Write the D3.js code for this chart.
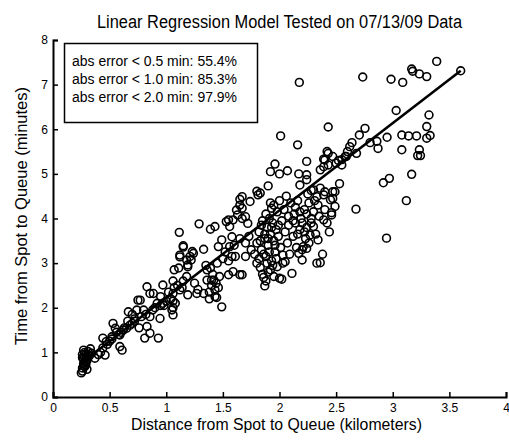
<!DOCTYPE html>
<html>
<head>
<meta charset="utf-8">
<script src="https://cdn.jsdelivr.net/npm/d3@7.9.0/dist/d3.min.js"></script>
<style>
  body { margin: 0; background: #fff; }
  svg { display: block; }
  text { font-family: "Liberation Sans Narrow", "Liberation Sans", Arial, sans-serif; fill: #000; }
</style>
</head>
<body>
<svg id="chart" width="509" height="441"></svg>
<script>
// trip data: [distance km, time min]
const trips = [
  // 0.25 - 0.35 km cluster
  [0.25,0.54],[0.26,0.58],[0.26,0.65],[0.27,0.70],[0.27,0.75],[0.28,0.80],[0.27,0.85],[0.28,0.90],
  [0.26,0.95],[0.28,1.00],[0.27,1.05],[0.29,0.72],[0.30,0.88],[0.31,0.95],[0.30,0.82],[0.29,0.78],
  [0.32,0.92],[0.33,1.08],[0.31,1.02],[0.28,0.68],[0.30,0.62],[0.34,0.98],[0.26,0.88],[0.29,0.96],
  // 0.35 - 0.8
  [0.37,0.87],[0.40,0.95],[0.42,1.00],[0.46,0.94],[0.44,1.10],[0.47,1.24],[0.44,1.32],[0.48,1.18],
  [0.50,1.25],[0.52,1.30],[0.53,1.65],[0.55,1.54],[0.56,1.45],[0.58,1.40],[0.59,1.13],[0.61,1.05],
  [0.59,1.39],[0.62,1.50],[0.65,1.54],[0.66,1.70],[0.68,1.61],[0.665,1.91],[0.70,1.85],[0.72,1.75],
  [0.74,1.95],[0.75,2.17],[0.77,2.17],[0.76,1.55],[0.78,1.80],[0.80,1.95],
  [0.52,1.35],[0.60,1.45],[0.63,1.55],[0.70,1.65],[0.72,1.70],
  // 0.8 - 1.3
  [0.81,1.32],[0.83,1.58],[0.856,1.43],[0.856,1.80],[0.93,1.32],[0.945,1.76],[0.83,2.47],[0.886,2.32],
  [0.97,2.51],[0.856,2.32],[0.90,2.00],[0.92,2.10],[0.95,2.25],[0.98,2.05],[1.00,2.15],[1.02,2.35],
  [1.06,1.84],[1.08,2.10],[1.06,2.32],[1.04,2.20],[1.11,2.89],[1.18,3.07],[1.21,3.15],[1.24,3.22],
  [1.27,2.32],[1.19,2.29],[1.18,2.70],[1.19,2.96],[1.10,2.50],[1.12,2.40],[1.15,2.60],[1.14,2.45],
  [1.115,3.69],[1.15,3.39],[1.12,3.18],[1.22,3.07],[1.23,3.26],[1.19,2.92],[1.25,2.55],[1.28,2.41],
  [1.29,3.88],
  [0.82,1.85],[0.88,1.95],[0.95,2.05],[0.97,2.10],
  [1.06,2.00],[1.06,2.15],[1.07,2.45],[1.06,2.60],[1.07,2.85],[1.05,1.95],[1.12,3.14],[1.15,3.36],
  // 1.3 - 1.75
  [1.33,3.31],[1.36,2.85],[1.42,2.62],[1.43,2.25],[1.39,3.76],[1.39,2.89],[1.40,2.62],[1.47,2.70],
  [1.55,2.74],[1.65,2.74],[1.59,2.81],[1.43,2.40],[1.445,2.23],[1.49,2.02],[1.33,2.32],[1.36,2.62],
  [1.43,3.82],[1.49,3.52],[1.58,3.59],[1.46,3.37],[1.56,3.37],[1.61,3.15],[1.70,3.15],[1.58,3.15],
  [1.35,2.95],[1.45,3.00],[1.50,3.10],[1.52,3.25],[1.55,3.05],[1.62,4.19],[1.63,4.08],[1.55,3.97],
  [1.53,3.93],[1.70,4.04],[1.72,3.89],[1.65,4.30],[1.67,4.23],[1.67,4.49],[1.65,4.43],[1.74,4.38],
  [1.56,3.82],[1.59,3.97],[1.67,4.00],[1.67,2.74],[1.60,3.40],[1.65,3.55],[1.70,3.45],[1.73,3.60],
  [1.75,3.30],
  [1.38,2.35],[1.40,2.50],[1.41,2.75],[1.44,2.55],[1.46,2.45],[1.38,2.20],
  // 1.75 - 2.35
  [1.80,4.61],[1.83,4.57],[1.81,4.53],[1.90,4.73],[1.92,4.35],[1.93,4.23],[1.96,5.22],[1.92,5.05],
  [2.00,5.00],[2.07,5.07],[2.17,5.00],[2.24,4.98],[2.01,5.85],[2.16,5.65],[2.24,5.28],[2.175,7.05],
  [2.18,4.75],[2.24,4.87],
  [1.78,3.20],[1.80,3.45],[1.80,3.00],[1.82,3.70],[1.83,2.90],[1.84,3.30],[1.85,3.95],[1.86,2.68],
  [1.87,2.49],[1.87,3.55],[1.88,4.10],[1.88,3.15],[1.89,3.80],[1.90,2.80],[1.90,3.40],[1.91,4.00],
  [1.92,3.65],[1.93,3.05],[1.94,3.90],[1.94,2.95],[1.95,3.50],[1.95,4.30],[1.96,3.25],[1.97,3.75],
  [1.98,2.92],[1.98,4.15],[1.99,3.60],[2.00,2.66],[2.00,4.40],[2.01,3.35],[2.02,2.64],[2.02,3.95],
  [2.03,3.18],[2.03,3.00],[2.04,4.20],[2.05,3.03],[2.05,3.70],[2.06,4.50],[2.07,3.45],[2.08,3.85],
  [2.08,4.05],[2.09,3.20],[2.10,4.35],[2.11,2.77],[2.12,3.60],[2.13,4.10],[2.14,3.90],[2.15,3.35],
  [2.16,4.40],[2.17,3.22],[2.18,3.75],[2.19,4.00],[2.20,3.07],[2.20,3.30],[2.21,3.37],[2.22,4.20],
  [2.23,3.55],[2.24,3.33],[2.24,3.80],[2.25,4.55],[2.26,3.45],[2.27,3.63],[2.28,4.00],[2.28,4.63],
  [2.30,3.82],[2.30,4.64],[2.33,4.49],[2.33,3.00],[2.34,3.52],[2.34,4.30],[2.36,3.01],[2.36,4.68],
  [2.39,3.97],[2.30,4.15],
  [1.82,3.10],[1.83,3.50],[1.84,3.85],[1.85,2.75],[1.86,3.20],[1.87,3.65],[1.88,2.60],[1.89,3.00],
  [1.90,3.55],[1.91,3.25],[1.92,2.85],[1.93,3.80],[1.95,2.70],[1.96,3.40],[1.97,3.10],[1.99,3.85],
  [2.12,3.95],[2.14,4.25],[2.16,3.65],[2.18,4.15],[2.20,3.90],[2.22,3.70],[2.24,4.10],[2.26,4.35],
  [2.28,3.90],[2.31,4.40],[2.32,3.65],[2.35,4.05],
  // 2.35 - 2.8
  [2.39,4.53],[2.40,4.60],[2.45,4.42],[2.47,4.60],[2.49,4.27],[2.46,4.08],[2.46,4.13],[2.42,5.50],
  [2.40,5.31],[2.47,5.39],[2.50,5.24],[2.43,5.20],[2.39,5.33],[2.43,5.46],[2.36,5.09],[2.39,5.16],
  [2.43,6.05],[2.53,4.78],[2.49,4.60],[2.47,4.45],[2.59,5.39],[2.55,5.20],[2.58,5.39],[2.52,5.30],
  [2.55,5.32],[2.62,5.61],[2.68,5.46],[2.705,5.87],[2.755,6.02],[2.945,3.56],[2.38,3.20],[2.42,3.90],
  [2.44,3.70],[2.40,4.20],
  // 2.6+
  [2.735,7.17],[2.985,7.12],[3.088,7.05],[3.167,7.35],[3.176,7.30],[3.235,7.24],[3.30,7.18],[3.388,7.52],
  [3.60,7.31],[3.03,6.42],[3.32,6.32],[3.30,6.06],[3.33,5.86],[3.30,5.80],[3.08,5.87],[3.14,5.85],
  [3.21,5.85],[3.08,5.54],[3.235,5.54],[3.22,5.41],[3.245,5.41],[2.95,5.82],[2.86,5.73],[2.87,5.57],
  [2.80,5.70],[3.167,4.99],[2.917,4.80],[2.97,4.90],[3.12,4.40],[2.675,4.21],[2.64,5.70],[2.60,5.50]
];

// fitted model
const fitSlope = 1.955;
const fitIntercept = 0.272;
const fitRange = [0.27, 3.6];

const xTicks = [0, 0.5, 1, 1.5, 2, 2.5, 3, 3.5, 4];
const yTicks = [0, 1, 2, 3, 4, 5, 6, 7, 8];

const legendLines = [
  'abs error < 0.5 min: 55.4%',
  'abs error < 1.0 min: 85.3%',
  'abs error < 2.0 min: 97.9%'
];

const title = 'Linear Regression Model Tested on 07/13/09 Data';
const xLabel = 'Distance from Spot to Queue (kilometers)';
const yLabel = 'Time from Spot to Queue (minutes)';

const svg = d3.select('#chart');
const plotLeft = 53, plotRight = 506, plotTop = 40, plotBottom = 397;

const x = d3.scaleLinear().domain([0, 4]).range([plotLeft, plotRight]);
const y = d3.scaleLinear().domain([0, 8]).range([plotBottom, plotTop]);

// axes (matlab style, ticks inward)
const xAxis = svg.append('g')
  .attr('transform', `translate(0,${plotBottom})`)
  .call(d3.axisBottom(x).tickValues(xTicks).tickSize(-5).tickPadding(6).tickFormat(d3.format('')));
const yAxis = svg.append('g')
  .attr('transform', `translate(${plotLeft},0)`)
  .call(d3.axisLeft(y).tickValues(yTicks).tickSize(-5).tickPadding(8).tickFormat(d3.format('')));

[xAxis, yAxis].forEach(g => {
  g.select('.domain').attr('stroke', '#000').attr('stroke-width', 2);
  g.selectAll('.tick line').attr('stroke', '#000').attr('stroke-width', 1.5);
  g.selectAll('.tick text')
    .style('font-family', '"Liberation Sans", Arial, sans-serif')
    .style('font-size', '12px');
});
yAxis.selectAll('.tick text').attr('dx', '3px');

// points
svg.append('g')
  .selectAll('circle')
  .data(trips)
  .join('circle')
  .attr('cx', d => x(d[0]))
  .attr('cy', d => y(d[1]))
  .attr('r', 3.9)
  .attr('fill', 'none')
  .attr('stroke', '#000')
  .attr('stroke-width', 1.6);

// regression line
svg.append('line')
  .attr('x1', x(fitRange[0]))
  .attr('y1', y(fitIntercept + fitSlope * fitRange[0]))
  .attr('x2', x(fitRange[1]))
  .attr('y2', y(fitIntercept + fitSlope * fitRange[1]))
  .attr('stroke', '#000')
  .attr('stroke-width', 2.6);

// legend box
svg.append('rect')
  .attr('x', 64.5).attr('y', 43.5)
  .attr('width', 193).attr('height', 79)
  .attr('fill', '#fff')
  .attr('stroke', '#000')
  .attr('stroke-width', 1.5);

svg.append('g')
  .selectAll('text')
  .data(legendLines)
  .join('text')
  .attr('x', 72)
  .attr('y', (d, i) => 66 + i * 18)
  .attr('textLength', 165)
  .attr('lengthAdjust', 'spacingAndGlyphs')
  .style('font-size', '14px')
  .text(d => d);

// title and labels
svg.append('text')
  .attr('x', 97).attr('y', 28)
  .attr('textLength', 365)
  .attr('lengthAdjust', 'spacingAndGlyphs')
  .style('font-size', '18px')
  .text(title);

svg.append('text')
  .attr('x', 131).attr('y', 430)
  .attr('textLength', 291)
  .attr('lengthAdjust', 'spacingAndGlyphs')
  .style('font-size', '16px')
  .text(xLabel);

svg.append('text')
  .attr('transform', 'translate(27,345) rotate(-90)')
  .attr('textLength', 258)
  .attr('lengthAdjust', 'spacingAndGlyphs')
  .style('font-size', '17px')
  .text(yLabel);
</script>
</body>
</html>
